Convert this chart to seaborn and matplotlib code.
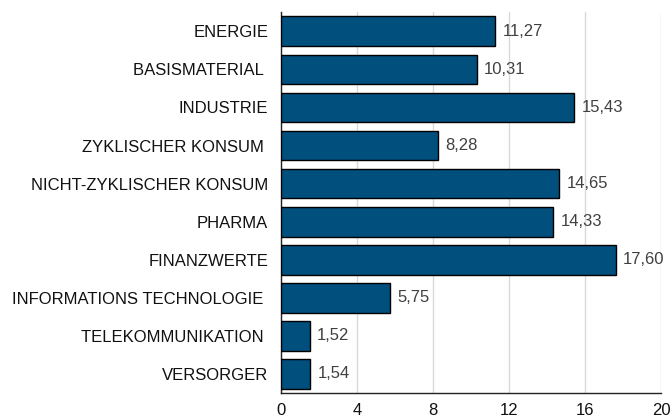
import pandas as pd
import matplotlib.pyplot as plt
import seaborn as sns

sectors = ["ENERGIE", "BASISMATERIAL ", "INDUSTRIE", "ZYKLISCHER KONSUM ",
           "NICHT-ZYKLISCHER KONSUM", "PHARMA", "FINANZWERTE",
           "INFORMATIONS TECHNOLOGIE ", "TELEKOMMUNIKATION ", "VERSORGER"]
values = [11.27, 10.31, 15.43, 8.28, 14.65, 14.33, 17.60, 5.75, 1.52, 1.54]
xticks = [0, 4, 8, 12, 16, 20]

df = pd.DataFrame({"sector": sectors, "value": values})

sns.set_style("white")
plt.rcParams['font.family'] = ['Liberation Sans', 'DejaVu Sans']

fig = plt.figure(figsize=(6.7, 4.17), dpi=100)
ax = fig.add_axes([0.419, 0.0576, 0.568, 0.913])

sns.barplot(data=df, x="value", y="sector", orient="h", color="#004f7c",
            saturation=1, width=0.78, edgecolor="black", linewidth=1, ax=ax, zorder=3)

for i, v in enumerate(values):
    ax.text(v + 0.38, i, f"{v:.2f}".replace(".", ","), va="center", ha="left",
            fontsize=12, color="#404040")

ax.set_xlim(0, 20)
ax.set_xticks(xticks)
ax.set_xticklabels([str(t) for t in xticks], fontsize=12, color="#111111")
ax.tick_params(axis="y", labelsize=12, labelcolor="#111111", length=0, pad=9)
ax.tick_params(axis="x", length=0, pad=7)
ax.xaxis.grid(True, color="#d9d9d9", linewidth=1, zorder=0)
ax.set_axisbelow(True)
ax.set_xlabel("")
ax.set_ylabel("")
for s in ["top", "right"]:
    ax.spines[s].set_visible(False)
for s in ["left", "bottom"]:
    ax.spines[s].set_color("#222222")
    ax.spines[s].set_linewidth(1)

fig.savefig("out.png", dpi=100)
